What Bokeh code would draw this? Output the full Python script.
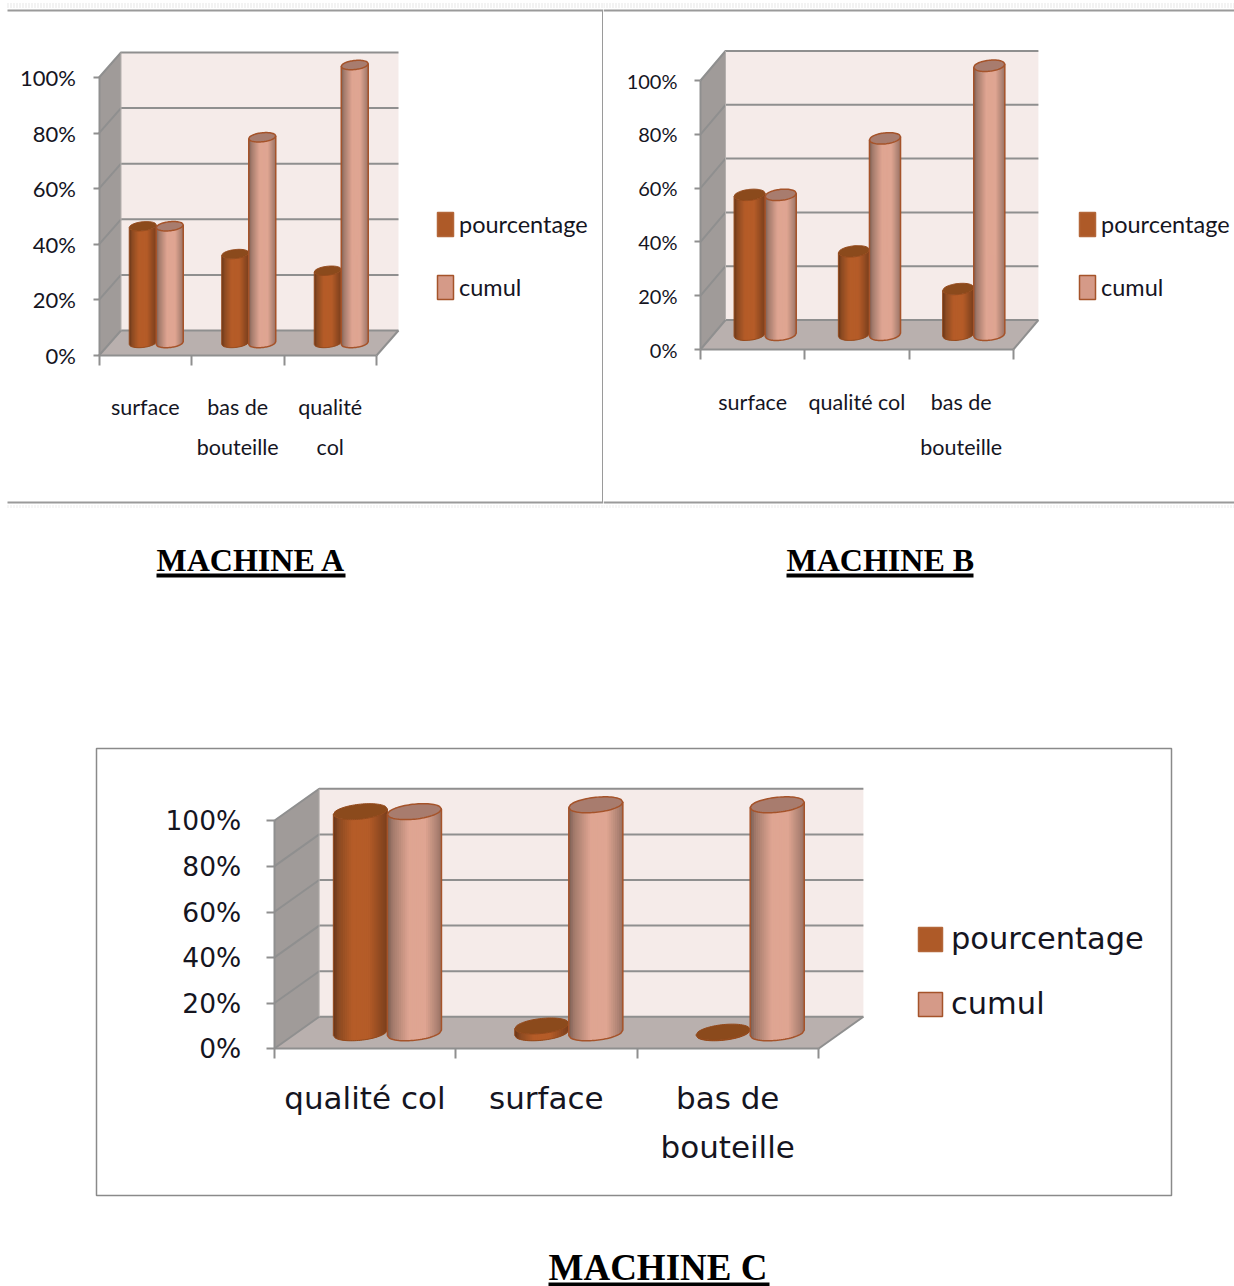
from bokeh.embed import file_html
from bokeh.resources import INLINE
from bokeh.plotting import figure
from bokeh.layouts import column, row
from bokeh.models import FixedTicker, Legend, LegendItem, PrintfTickFormatter, Range1d
from bokeh.core.properties import value

# Pareto readings per machine, in percent
categories_a = [["surface"], ["bas de", "bouteille"], ["qualité", "col"]]
pourcentage_a = [42, 32, 26]
cumul_a = [42, 74, 100]

categories_b = [["surface"], ["qualité col"], ["bas de", "bouteille"]]
pourcentage_b = [52, 31, 17]
cumul_b = [52, 73, 100]

categories_c = [["qualité col"], ["surface"], ["bas de", "bouteille"]]
pourcentage_c = [97, 3, 0.3]
cumul_c = [97, 100, 100]

y_ticks = [0, 20, 40, 60, 80, 100]
series_names = ["pourcentage", "cumul"]

NARROW = "Lato"
WIDE = "DejaVu Sans"
AXIS_GREY = "#8f8f8f"

RAMP_DARK = [(0, "#66351a"), (.1, "#8b4a22"), (.35, "#b55c28"), (.65, "#b55c28"), (.9, "#8a4720"), (1, "#7a3f1c")]
RAMP_LIGHT = [(0, "#7a5f54"), (.1, "#a37a6b"), (.4, "#dfa592"), (.7, "#dfa592"), (.92, "#ad8273"), (1, "#977061")]


def ramp_colour(stops, t):
    for (t0, c0), (t1, c1) in zip(stops, stops[1:]):
        if t <= t1:
            f = (t - t0) / (t1 - t0)
            rgb = [int(c0[i:i + 2], 16) * (1 - f) + int(c1[i:i + 2], 16) * f for i in (1, 3, 5)]
            return "#%02x%02x%02x" % tuple(int(round(c)) for c in rgb)
    return stops[-1][1]


class Panel:
    """A 3D-looking column chart on one figure, with its category and percent scales."""

    def __init__(self, left, top, width, height, x0, cat_px, y0, val_px, dx_px, dy_px, radius_y):
        self.left, self.top = left, top
        self.x0, self.cat_px, self.y0, self.val_px = x0, cat_px, y0, val_px
        self.dx = dx_px / cat_px
        self.dy = dy_px / val_px
        self.radius_y = radius_y / val_px
        self.p = figure(
            width=width, height=height, output_backend="svg", toolbar_location=None,
            min_border=0, outline_line_color=None, background_fill_color="white",
            x_range=Range1d(self.x(left), self.x(left + width)),
            y_range=Range1d(self.y(top + height), self.y(top)),
        )
        self.p.grid.visible = False

    def x(self, page_x):
        return (page_x - self.x0) / self.cat_px

    def y(self, page_y):
        return (self.y0 - page_y) / self.val_px

    def box(self, color="#f5ebe9"):
        p, dx, dy = self.p, self.dx, self.dy
        p.patch([0, dx, dx, 0], [0, dy, 100 + dy, 100], fill_color="#a09b99", line_color=None)
        p.quad(left=[dx], right=[3 + dx], bottom=[dy], top=[100 + dy], fill_color=color, line_color=None)
        p.patch([0, 3, 3 + dx, dx], [0, 0, dy, dy], fill_color="#b9b0ae", line_color=None)
        for v in y_ticks:
            p.line([0, dx, 3 + dx], [v, v + dy, v + dy], line_color=AXIS_GREY, line_width=2)
        p.line([dx, dx], [dy, 100 + dy], line_color="#b5b0ae", line_width=1)
        p.line([3, 3 + dx], [0, dy], line_color=AXIS_GREY, line_width=2)

    def axes(self, tick_font, tick_size, standoff, tick_y=6, tick_x=10):
        p = self.p
        ya = p.yaxis[0]
        ya.fixed_location = 0
        ya.bounds = (0, 100)
        ya.ticker = FixedTicker(ticks=y_ticks)
        ya.formatter = PrintfTickFormatter(format="%d%%")
        ya.major_label_text_font = tick_font
        ya.major_label_text_font_size = tick_size
        ya.major_label_text_color = "#15151f"
        ya.major_label_standoff = standoff
        ya.major_tick_out = tick_y
        ya.major_tick_in = 0
        ya.minor_tick_line_color = None
        ya.axis_line_color = AXIS_GREY
        ya.axis_line_width = 2
        ya.major_tick_line_color = AXIS_GREY
        ya.major_tick_line_width = 2

        xa = p.xaxis[0]
        xa.fixed_location = 0
        xa.bounds = (0, 3)
        xa.ticker = FixedTicker(ticks=[0, 1, 2, 3])
        xa.major_label_text_color = None
        xa.major_tick_out = tick_x
        xa.major_tick_in = 0
        xa.minor_tick_line_color = None
        xa.axis_line_color = AXIS_GREY
        xa.axis_line_width = 2
        xa.major_tick_line_color = AXIS_GREY
        xa.major_tick_line_width = 2

    def cylinder(self, cx, val, half, ramp, lid, edge, edge_w):
        """One shaded column whose base sits halfway through the depth of the box."""
        n = 28
        slope = 0.1 * half * self.cat_px / self.val_px
        centre = cx + self.dx / 2
        base = self.dy / 2
        us = [-1 + 2 * i / n for i in range(n + 1)]
        xs = [centre + half * u for u in us]
        skew = [slope * u for u in us]
        curve = [self.radius_y * (1 - u * u) ** 0.5 for u in us]
        low = [base + s - c for s, c in zip(skew, curve)]
        upper_front = [base + val + s - c for s, c in zip(skew, curve)]
        upper_back = [base + val + s + c for s, c in zip(skew, curve)]

        # each strip runs under the next one so that no seams show between them
        strip_x, strip_y, strip_c = [], [], []
        for i in range(n):
            j = min(i + 2, n)
            mid = i + 1
            strip_x.append([xs[i], xs[mid], xs[j], xs[j], xs[mid], xs[i]])
            strip_y.append([low[i], low[mid], low[j], upper_front[j], upper_front[mid], upper_front[i]])
            strip_c.append(ramp_colour(ramp, (i + 0.5) / n))
        self.p.patches(strip_x, strip_y, fill_color=strip_c, line_color=None)
        self.p.line(xs[:1] + xs + xs[-1:], upper_front[:1] + low + upper_front[-1:],
                    line_color=edge, line_width=edge_w)
        self.p.patch(xs + xs[::-1], upper_front + upper_back[::-1],
                     fill_color=lid, line_color=edge, line_width=edge_w)

    def columns(self, pct, cum, half):
        for i, (a, b) in enumerate(zip(pct, cum)):
            self.cylinder(i + 0.5 - half, a, half, RAMP_DARK, "#8b4a1c", "#94491b", 1)
            self.cylinder(i + 0.5 + half, b, half, RAMP_LIGHT, "#a87c6e", "#a5532a", 1.5)

    def category_labels(self, cats, font, size, first_off, line_step):
        xs, ys, texts, offs = [], [], [], []
        for i, lines in enumerate(cats):
            for j, line in enumerate(lines):
                xs.append(i + 0.5)
                ys.append(0)
                texts.append(line)
                offs.append(first_off + j * line_step)
        self.p.text(xs, ys, text=texts, y_offset=offs, text_font=value(font), text_font_size=size,
                    text_align="center", text_baseline="middle", text_color="#15151f")

    def legend(self, x, y, font, size, glyph_w, glyph_h, standoff, spacing):
        p = self.p
        far = p.x_range.start - 10
        r1 = p.quad(left=[far], right=[far], bottom=[0], top=[0], fill_color="#ae5a28", line_color="#b4673a", line_width=1.5)
        r2 = p.quad(left=[far], right=[far], bottom=[0], top=[0], fill_color="#d59a88", line_color="#a5532a", line_width=1.5)
        leg = Legend(
            items=[LegendItem(label=series_names[0], renderers=[r1]), LegendItem(label=series_names[1], renderers=[r2])],
            location=(x, y), padding=0, margin=0, border_line_color=None, background_fill_alpha=0,
            glyph_width=glyph_w, glyph_height=glyph_h, label_standoff=standoff, spacing=spacing,
            label_text_font=font, label_text_font_size=size, label_text_color="#15151f",
        )
        p.add_layout(leg)

    def page_text(self, text, page_x, caps_middle, rule_y, page_end, size):
        self.p.text([self.x(page_x)], [self.y(caps_middle)], text=[text], text_font=value("Liberation Serif"),
                    text_font_style="bold", text_font_size=size, text_baseline="middle", text_color="black")
        self.p.line([self.x(page_x), self.x(page_end)], [self.y(rule_y)] * 2,
                    line_color="black", line_width=4)

    def rule(self, x1, y1, x2, y2, color="#9a9a9a", width=2, dash="solid"):
        self.p.line([self.x(x1), self.x(x2)], [self.y(y1), self.y(y2)],
                    line_color=color, line_width=width, line_dash=dash)


# Machine A, left cell of the table
a = Panel(0, 0, 603, 620, 98.5, 92.5, 355, 2.78, 22, 25, 4.5)
a.box()
a.columns(pourcentage_a, cumul_a, 0.146)
a.axes(NARROW, "22px", 17)
a.category_labels(categories_a, NARROW, "21.5px", 51, 40)
a.legend(435, 318, NARROW, "23.5px", 20, 30, 4, 33)
a.rule(7, 10, 603, 10)
a.rule(7, 5, 603, 5, "#e6e6e6", 5, "1 2")
a.rule(7, 502, 603, 502)
a.rule(7, 506, 603, 506, "#ececec", 3, "1 2")
a.rule(602.5, 10, 602.5, 502)
a.page_text("MACHINE A", 156, 559, 575, 345, "32px")

# Machine B, right cell of the table
b = Panel(603, 0, 631, 620, 700, 104.3, 349, 2.69, 25, 29.5, 5.5)
b.box()
b.columns(pourcentage_b, cumul_b, 0.149)
b.axes(NARROW, "20px", 17)
b.category_labels(categories_b, NARROW, "21.5px", 52, 45)
b.legend(474, 318, NARROW, "23.5px", 20, 30, 4, 33)
b.rule(603, 10, 1234, 10)
b.rule(603, 5, 1234, 5, "#e6e6e6", 5, "1 2")
b.rule(603, 502, 1234, 502)
b.rule(603, 506, 1234, 506, "#ececec", 3, "1 2")
b.page_text("MACHINE B", 786, 559, 575, 973, "32px")

# Machine C, framed chart under the table
c = Panel(0, 620, 1234, 666, 273.7, 181.4, 1048.3, 2.28, 45, 32, 7.5)
c.p.quad(left=[c.x(96)], right=[c.x(1171)], bottom=[c.y(1195)], top=[c.y(748)],
         fill_color="white", line_color="#8a8a8a", line_width=1.5)
c.box()
c.columns(pourcentage_c, cumul_c, 0.149)
c.axes(WIDE, "26.5px", 25, 8, 10)
c.category_labels(categories_c, WIDE, "31px", 49, 49)
c.legend(915, 265, WIDE, "30.5px", 30, 30, 6, 30)
c.page_text("MACHINE C", 548, 1266.5, 1284, 769, "37px")

page = column(row(a.p, b.p, spacing=0), c.p, spacing=0)
open("out.html", "w").write(file_html(page, INLINE))
